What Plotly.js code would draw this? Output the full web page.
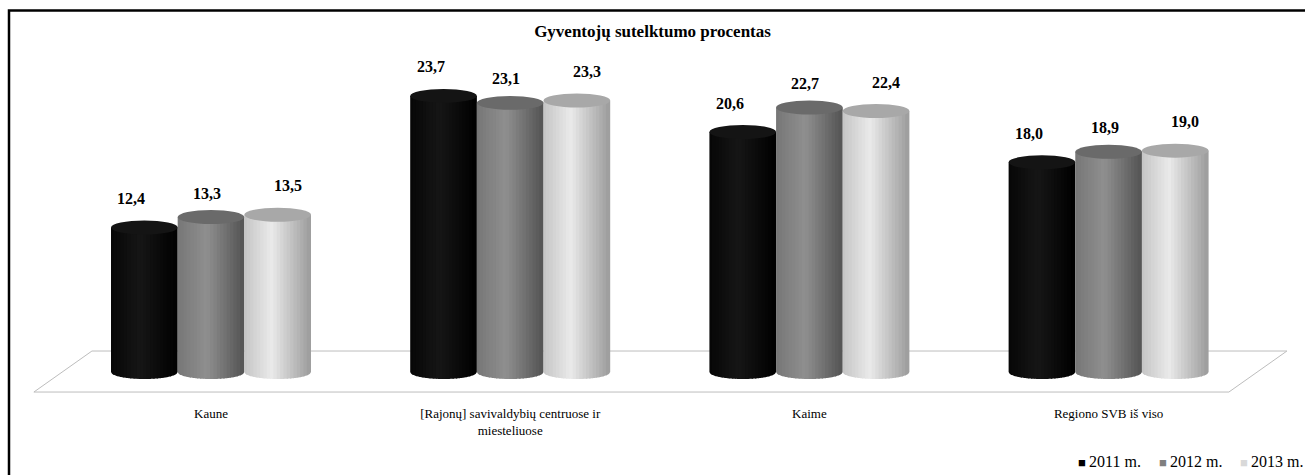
<!DOCTYPE html>
<html>
<head>
<meta charset="utf-8">
<script src="https://cdn.plot.ly/plotly-3.0.1.min.js"></script>
<style>
  html, body { margin: 0; padding: 0; background: #fff; }
  #myPlot { width: 1305px; height: 475px; }
</style>
</head>
<body>
<div id="myPlot"></div>
<script>
var categories = ["Kaune", "[Rajonų] savivaldybių centruose ir<br>miesteliuose", "Kaime", "Regiono SVB iš viso"];
var years = ["2011 m.", "2012 m.", "2013 m."];
var v2011 = [12.4, 23.7, 20.6, 18.0];
var v2012 = [13.3, 23.1, 22.7, 18.9];
var v2013 = [13.5, 23.3, 22.4, 19.0];
var series = [v2011, v2012, v2013];

// cylinder look: grey level across the width (left, highlight, right)
var profiles = [
  [[0, 6], [0.45, 22], [1, 0]],
  [[0, 118], [0.45, 143], [1, 84]],
  [[0, 196], [0.42, 234], [1, 156]]
];
var capColors = ["#141414", "#6a6a6a", "#a8a8a8"];
var legendColors = ["#000000", "#7f7f7f", "#d9d9d9"];
var labelShiftX = [-13, -4, 10];
var labelShiftY = [29, 24, 29];

var N = 20;        // strips per cylinder
var W = 0.2228;    // cylinder width in axis units
var B = 0.6;       // ellipse half height in value units
var ov = 0.003;    // strip overlap, hides seams

function shade(stops, t) {
  for (var i = 0; i < stops.length - 1; i++) {
    if (t <= stops[i + 1][0]) {
      var f = (t - stops[i][0]) / (stops[i + 1][0] - stops[i][0]);
      var g = Math.round(stops[i][1] + f * (stops[i + 1][1] - stops[i][1]));
      return "rgb(" + g + "," + g + "," + g + ")";
    }
  }
  var l = stops[stops.length - 1][1];
  return "rgb(" + l + "," + l + "," + l + ")";
}

var xs = categories.map(function (c, i) { return i; });
var data = [];
var shapes = [];
var annotations = [];

// floor
shapes.push({
  type: "path", xref: "x", yref: "y", layer: "below",
  path: "M -0.398,1.8 L 3.596,1.8 L 3.402,-1.72 L -0.592,-1.72 Z",
  fillcolor: "#ffffff", line: {color: "#bdbdbd", width: 1}
});

series.forEach(function (vals, s) {
  for (var k = 0; k < N; k++) {
    var t = (k + 0.5) / N;
    var col = shade(profiles[s], t);
    var pad = k > 0 ? ov : 0;
    data.push({
      type: "bar",
      x: xs,
      y: vals,
      width: W / N + pad,
      offset: (s - 1.5) * W + k * W / N - pad,
      marker: {color: col, line: {width: 0}},
      hoverinfo: "skip",
      showlegend: false
    });
    // rounded bottom of each strip
    vals.forEach(function (v, i) {
      var xc = i + (s - 1) * W;
      var u0 = -1 + 2 * k / N - (k > 0 ? 2 * ov / W : 0), u1 = -1 + 2 * (k + 1) / N;
      var p = "M " + (xc + u0 * W / 2) + ",0";
      for (var j = 0; j <= 4; j++) {
        var u = u0 + (u1 - u0) * j / 4;
        p += " L " + (xc + u * W / 2) + "," + (-B * Math.sqrt(Math.max(0, 1 - u * u)));
      }
      p += " L " + (xc + u1 * W / 2) + ",0 Z";
      shapes.push({type: "path", xref: "x", yref: "y", layer: "below",
        path: p, fillcolor: col, line: {width: 0}});
    });
  }
  vals.forEach(function (v, i) {
    var xc = i + (s - 1) * W;
    shapes.push({type: "circle", xref: "x", yref: "y", layer: "above",
      x0: xc - W / 2, x1: xc + W / 2, y0: v - B, y1: v + B,
      fillcolor: capColors[s], line: {width: 0}});
    annotations.push({
      x: xc, y: v, xref: "x", yref: "y",
      xshift: labelShiftX[s], yshift: labelShiftY[s], showarrow: false,
      yanchor: "middle",
      text: "<b>" + v.toFixed(1).replace(".", ",") + "</b>",
      font: {family: "Liberation Serif", size: 16, color: "#000"}
    });
  });
});

// legend drawn as text
var L = 20, PW = 1275, T = 60, PH = 340;
years.forEach(function (y, s) {
  annotations.push({
    xref: "paper", yref: "paper",
    x: (1076 + s * 81 - L) / PW, y: (T + PH - 461) / PH,
    xanchor: "left", yanchor: "middle", showarrow: false,
    text: "<span style=\"color:" + legendColors[s] + ";font-size:13px\">■ </span>" + y,
    font: {family: "Liberation Serif", size: 16, color: "#000"}
  });
});

// outer frame
shapes.push({
  type: "rect", xref: "paper", yref: "paper", layer: "above",
  x0: (9 - L) / PW, x1: 2, y0: -2, y1: (T + PH - 10.5) / PH,
  fillcolor: "rgba(0,0,0,0)", line: {color: "#000", width: 2.5}
});

var layout = {
  width: 1305, height: 475,
  margin: {l: L, r: 10, t: T, b: 75},
  title: {
    text: "<b>Gyventojų sutelktumo procentas</b>",
    x: 0.5, xref: "container", y: 1 - 31 / 475, yref: "container", yanchor: "middle",
    font: {family: "Liberation Serif", size: 17, color: "#000"}
  },
  barmode: "overlay",
  showlegend: false,
  xaxis: {
    range: [-0.6384, 3.623],
    tickvals: xs, ticktext: categories,
    showgrid: false, zeroline: false, showline: false, ticks: "",
    ticklabelstandoff: 4,
    tickfont: {family: "Liberation Serif", size: 13, color: "#000"}
  },
  yaxis: {
    range: [-2.403, 26.78], visible: false, showgrid: false, zeroline: false
  },
  shapes: shapes,
  annotations: annotations,
  plot_bgcolor: "#fff",
  paper_bgcolor: "#fff"
};

Plotly.newPlot("myPlot", data, layout, {displayModeBar: false, staticPlot: true});
</script>
</body>
</html>
